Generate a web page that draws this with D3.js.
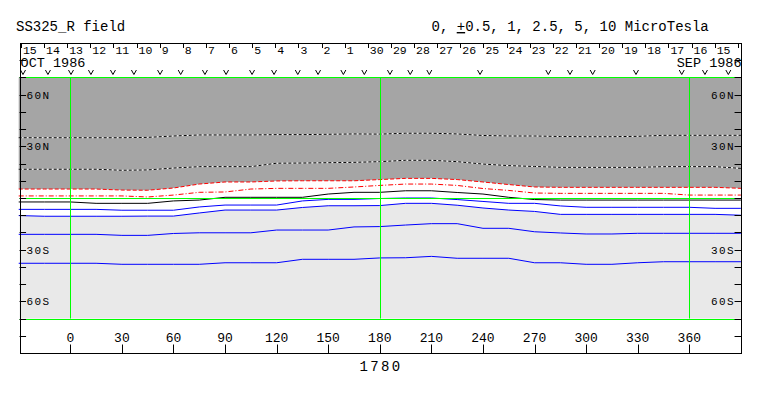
<!DOCTYPE html>
<html>
<head>
<meta charset="utf-8">
<script src="https://cdn.jsdelivr.net/npm/d3@7"></script>
<style>
    body { margin: 0; background: #fff; }
    svg { display: block; font-family: "Liberation Mono", "DejaVu Sans Mono", monospace; }
</style>
</head>
<body>
<div id="chart"></div>
<script>
const lonSamples = [-30, -15, 0, 15, 30, 45, 60, 75, 90, 105, 120, 135, 150, 165, 180,
    195, 210, 225, 240, 255, 270, 285, 300, 315, 330, 345, 360, 375, 390];

// contour latitudes (deg), one value per lonSample
const dottedUpper = [35.0, 35.0, 35.0, 35.0, 35.0, 35.2, 36.0, 36.6, 36.6, 36.6, 36.8, 36.8, 37.0, 37.2, 37.1,
    37.6, 37.6, 37.2, 36.3, 36.0, 36.0, 35.7, 35.6, 35.6, 35.8, 36.4, 36.4, 36.4, 36.4];
const dottedLower = [16.7, 16.7, 16.7, 16.7, 16.1, 16.3, 17.4, 18.2, 18.2, 18.2, 20.2, 20.3, 20.5, 20.7, 21.1,
    21.9, 21.9, 21.1, 19.7, 18.8, 18.3, 17.8, 17.8, 17.8, 17.8, 18.2, 18.2, 18.2, 17.2];
const redDashed = [5.2, 5.2, 5.2, 5.2, 4.6, 4.5, 5.8, 8.1, 9.3, 9.3, 9.9, 10.0, 10.0, 10.0, 10.7,
    11.4, 11.4, 10.7, 9.3, 7.8, 6.4, 6.2, 6.2, 6.2, 6.2, 6.2, 6.2, 6.2, 5.6];
const redDashDot = [1.2, 1.2, 1.2, 1.2, 1.2, 0.6, 1.7, 3.3, 3.5, 5.2, 5.6, 5.6, 5.6, 6.4, 7.3,
    8.1, 8.1, 7.3, 5.5, 4.4, 2.9, 2.7, 2.7, 2.7, 2.7, 2.7, 1.7, 1.7, 1.7];
const blackSolid = [-2.3, -2.3, -2.3, -3.1, -3.1, -3.1, -1.7, -1.2, 0.4, 0.4, 0.4, 0.4, 2.3, 3.3, 3.3,
    4.2, 4.2, 3.2, 2.3, 0.4, -0.9, -1.2, -1.2, -1.2, -1.2, -1.2, -1.2, -1.2, -1.2];
const blueOne = [-6.6, -6.6, -6.6, -6.6, -7.1, -7.1, -7.1, -5.2, -4.1, -4.1, -4.1, -1.7, -0.8, -0.8, -0.3,
    0.0, 0.0, -0.9, -2.0, -3.1, -3.1, -4.6, -5.4, -5.4, -5.4, -5.4, -5.4, -6.0, -6.0];
const blueTwo = [-10.2, -10.6, -10.6, -10.6, -10.6, -10.5, -10.5, -8.7, -7.0, -7.0, -7.0, -5.5, -4.5, -4.5, -4.4,
    -3.1, -3.1, -4.2, -5.8, -7.0, -7.8, -9.5, -9.5, -9.5, -9.5, -9.5, -9.5, -9.5, -10.0];
const blueThree = [-21.1, -21.1, -21.1, -21.1, -21.7, -21.7, -20.6, -20.2, -20.2, -20.2, -18.6, -18.6, -18.6, -16.8, -16.6,
    -15.7, -14.9, -14.9, -17.6, -17.6, -19.6, -20.3, -20.9, -20.9, -20.5, -20.5, -20.5, -20.5, -20.5];
const blueFour = [-37.9, -37.9, -37.9, -37.9, -38.5, -38.5, -38.5, -38.5, -37.6, -37.6, -37.6, -35.6, -35.6, -35.6, -34.8,
    -34.7, -33.9, -35.0, -35.0, -35.0, -37.6, -37.6, -38.5, -38.5, -37.6, -37.0, -37.0, -37.0, -37.0];

// day labels along the top (orbit dates, Oct 15 back to Sep 15)
const dayLabels = ['15', '14', '13', '12', '11', '10', '9', '8', '7', '6', '5', '4', '3', '2', '1', '30',
    '29', '28', '27', '26', '25', '24', '23', '22', '21', '20', '19', '18', '17', '16', '15'];

// pass markers (longitudes of the little "v" marks)
const passLons = [-27.5, -13, 0.4, 12, 24.8, 37, 52.2, 64.2, 78.3, 90.6, 105.7, 118.5, 132.3, 144.1,
    158.8, 171, 185.9, 197.7, 208.8, 238.3, 278, 290.6, 303.8, 329, 355.6, 369.1, 382.7];

const lonTicks = [0, 30, 60, 90, 120, 150, 180, 210, 240, 270, 300, 330, 360];
const latTicks = [-80, -70, -60, -50, -40, -30, -20, -10, 0, 10, 20, 30, 40, 50, 60, 70, 80];
const latLabelValues = [60, 30, -30, -60];
const latLabelText = ['60N', '30N', '30S', '60S'];
const gridLons = [0, 180, 360];
const gridLats = [70, 0, -70];

const width = 763, height = 396;

const x = d3.scaleLinear().domain([0, 360]).range([70.3, 689.3]);
const y = d3.scaleLinear().domain([-90, 90]).range([353, 43]);

const frameLon = [-29.5, 390.1];
const dayLon = [-28.7, 388.2];
const xL = x(frameLon[0]);
const xR = x(frameLon[1]);

const svg = d3.select('#chart')
    .append('svg')
    .attr('width', width)
    .attr('height', height);

// Titles
svg.append('text')
    .attr('x', 16).attr('y', 31)
    .style('font-size', '14px')
    .text('SS325_R field');

const unitText = svg.append('text')
    .attr('x', 431.5).attr('y', 31)
    .style('font-size', '14px');
unitText.append('tspan').text('0, ');
unitText.append('tspan').style('text-decoration', 'underline').text('+');
unitText.append('tspan').text('0.5, 1, 2.5, 5, 10 MicroTesla');

// Plot background (light grey below, dark grey above the upper red contour)
svg.append('rect')
    .attr('x', xL).attr('y', y(70))
    .attr('width', xR - xL).attr('height', y(-70) - y(70))
    .attr('fill', '#e9e9e9');

const area = (top, bottom) => d3.area()
    .x((d, i) => x(lonSamples[i]))
    .y0((d, i) => y(top[i]))
    .y1((d, i) => y(bottom[i]));

const ceiling = lonSamples.map(() => 70);

svg.append('path')
    .datum(lonSamples)
    .attr('d', area(redDashed, blueTwo))
    .attr('fill', '#ffffff');

svg.append('path')
    .datum(lonSamples)
    .attr('d', area(ceiling, redDashed))
    .attr('fill', '#a5a5a5');

// Contours
const line = d3.line()
    .x((d, i) => x(lonSamples[i]))
    .y(d => y(d));

const contours = [
    { vals: dottedUpper, color: '#000', dash: '3,2', under: '#fff' },
    { vals: dottedLower, color: '#000', dash: '3,2', under: '#fff' },
    { vals: redDashed, color: '#ff0000', dash: '4,2' },
    { vals: redDashDot, color: '#ff0000', dash: '5,2,1,2' },
    { vals: blackSolid, color: '#000' },
    { vals: blueOne, color: '#0000ff' },
    { vals: blueTwo, color: '#0000ff' },
    { vals: blueThree, color: '#0000ff' },
    { vals: blueFour, color: '#0000ff' }
];

contours.forEach(c => {
    if (c.under) {
        svg.append('path')
            .attr('d', line(c.vals))
            .attr('fill', 'none')
            .attr('stroke', c.under);
    }
    svg.append('path')
        .attr('d', line(c.vals))
        .attr('fill', 'none')
        .attr('stroke', c.color)
        .attr('stroke-dasharray', c.dash || null);
});

// Green grid
svg.selectAll('.glat')
    .data(gridLats)
    .join('line')
    .attr('x1', xL).attr('x2', xR)
    .attr('y1', d => Math.round(y(d)) + 0.5).attr('y2', d => Math.round(y(d)) + 0.5)
    .attr('stroke', '#00ff00');

svg.selectAll('.glon')
    .data(gridLons)
    .join('line')
    .attr('x1', d => Math.round(x(d)) + 0.5).attr('x2', d => Math.round(x(d)) + 0.5)
    .attr('y1', y(70)).attr('y2', y(-70))
    .attr('stroke', '#00ff00');

// Frame
svg.append('rect')
    .attr('x', Math.round(xL) + 0.5).attr('y', y(90) + 0.5)
    .attr('width', Math.round(xR - xL)).attr('height', y(-90) - y(90))
    .attr('fill', 'none')
    .attr('stroke', '#000');

// Latitude ticks on both sides
svg.selectAll('.tl')
    .data(latTicks)
    .join('line')
    .attr('x1', xL).attr('x2', xL + 6.5)
    .attr('y1', d => Math.round(y(d)) + 0.5).attr('y2', d => Math.round(y(d)) + 0.5)
    .attr('stroke', '#000');

svg.selectAll('.tr')
    .data(latTicks)
    .join('line')
    .attr('x1', xR - 6.5).attr('x2', xR)
    .attr('y1', d => Math.round(y(d)) + 0.5).attr('y2', d => Math.round(y(d)) + 0.5)
    .attr('stroke', '#000');

latLabelValues.forEach((lat, i) => {
    svg.append('text')
        .attr('x', xL + 7).attr('y', y(lat) + 4)
        .style('font-size', '11px')
        .style('letter-spacing', '1.4px')
        .text(latLabelText[i]);
    svg.append('text')
        .attr('x', xR - 6).attr('y', y(lat) + 4)
        .attr('text-anchor', 'end')
        .style('font-size', '11px')
        .style('letter-spacing', '1.4px')
        .text(latLabelText[i]);
});

// Longitude axis (inside the bottom of the frame)
svg.selectAll('.lt')
    .data(lonTicks)
    .join('line')
    .attr('x1', d => Math.round(x(d)) + 0.5).attr('x2', d => Math.round(x(d)) + 0.5)
    .attr('y1', y(-90) - 8.5).attr('y2', y(-90))
    .attr('stroke', '#000');

svg.selectAll('.ll')
    .data(lonTicks)
    .join('text')
    .attr('x', d => x(d)).attr('y', 342)
    .attr('text-anchor', 'middle')
    .style('font-size', '13px')
    .text(d => d);

svg.append('text')
    .attr('x', x(180) + 1.2).attr('y', 371)
    .attr('text-anchor', 'middle')
    .style('font-size', '14px')
    .style('letter-spacing', '2.4px')
    .text('1780');

// Day strip across the top
const day = d3.scaleBand()
    .domain(d3.range(dayLabels.length))
    .range([x(dayLon[0]), x(dayLon[1])]);

svg.selectAll('.dt')
    .data(d3.range(dayLabels.length + 1))
    .join('line')
    .attr('x1', d => Math.round(day.range()[0] + d * day.step()) + 0.5)
    .attr('x2', d => Math.round(day.range()[0] + d * day.step()) + 0.5)
    .attr('y1', y(90)).attr('y2', y(90) + 5)
    .attr('stroke', '#000');

svg.selectAll('.dl')
    .data(dayLabels)
    .join('text')
    .attr('x', (d, i) => day(i) + 2)
    .attr('y', 54)
    .style('font-size', '11.5px')
    .text(d => d);

svg.append('text')
    .attr('x', xL + 1).attr('y', 66.5)
    .style('font-size', '13.5px')
    .text('OCT 1986');

svg.append('text')
    .attr('x', xR + 0.5).attr('y', 66.5)
    .attr('text-anchor', 'end')
    .style('font-size', '13.5px')
    .text('SEP 1986');

// pass markers
svg.selectAll('.pm')
    .data(passLons)
    .join('path')
    .attr('d', d => `M${x(d) - 2.5},70 L${x(d)},74.5 L${x(d) + 2.5},70`)
    .attr('fill', 'none')
    .attr('stroke', '#000');
</script>
</body>
</html>
